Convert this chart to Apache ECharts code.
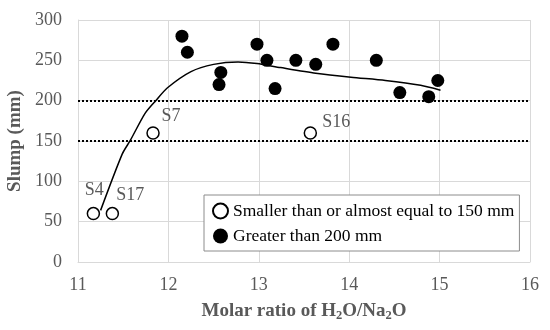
<!DOCTYPE html>
<html>
<head>
<meta charset="utf-8">
<script src="https://cdn.jsdelivr.net/npm/echarts@6/dist/echarts.min.js"></script>
<style>
html,body{margin:0;padding:0;background:#fff;}
#chart{width:550px;height:330px;}
</style>
</head>
<body>
<div id="chart"></div>
<script>
// ---- data ----
const openName = 'Smaller than or almost equal to 150 mm';
const filledName = 'Greater than 200 mm';
const openLabels = ['S4', 'S17', 'S7', 'S16'];
const openX = [11.17, 11.38, 11.83, 13.57];
const openY = [60, 60, 160, 160];
const filledX = [12.15, 12.21, 12.56, 12.58, 12.98, 13.09, 13.18, 13.41, 13.63, 13.82, 14.30, 14.56, 14.88, 14.98];
const filledY = [280, 260, 220, 235, 270, 250, 215, 250, 245, 270, 250, 210, 205, 225];
const trendX = [11.25, 11.49, 11.58, 11.74, 11.86, 11.99, 12.25, 12.50, 12.77, 12.98, 13.24, 13.63, 14.02, 14.40, 14.79, 15.01];
const trendY = [64, 134, 151, 184, 200, 216, 236, 245, 248, 246, 241, 234, 229, 225, 219, 213];
const refLines = [200, 150];
const xMin = 11, xMax = 16, xStep = 1;
const yMin = 0, yMax = 300, yStep = 50;

// ---- style ----
const FONT = '"Liberation Serif", "Times New Roman", serif';
const GRAY = '#595959';
const labelOffset = { S4: [1, -3], S17: [18, 2], S7: [18, 4], S16: [26, 10] };

const openData = openX.map((x, i) => ({
  value: [x, openY[i]],
  name: openLabels[i],
  label: {
    show: true, formatter: '{b}', position: 'top', distance: 5,
    offset: labelOffset[openLabels[i]],
    color: GRAY, fontSize: 18, fontFamily: FONT
  }
}));
const filledData = filledX.map((x, i) => [x, filledY[i]]);
const trendData = trendX.map((x, i) => [x, trendY[i]]);

const chart = echarts.init(document.getElementById('chart'), null, { renderer: 'canvas' });
chart.setOption({
  backgroundColor: '#fff',
  animation: false,
  textStyle: { fontFamily: FONT },
  grid: { left: 78, right: 20, top: 20, bottom: 68, containLabel: false, outerBoundsMode: 'none' },
  legend: {
    data: [openName, filledName],
    orient: 'vertical',
    left: 204, top: 195,
    padding: [7, 5, 6, 8],
    itemGap: 7,
    itemWidth: 15, itemHeight: 15,
    borderColor: '#8c8c8c', borderWidth: 1,
    backgroundColor: '#fff',
    textStyle: { fontSize: 17.5, color: '#000', fontFamily: FONT }
  },
  xAxis: {
    type: 'value', min: xMin, max: xMax, interval: xStep,
    name: '{b|Molar ratio of H}{s|2}{b|O/Na}{s|2}{b|O}',
    nameLocation: 'middle', nameGap: 38,
    nameTextStyle: {
      rich: {
        b: { fontSize: 19, fontWeight: 'bold', color: GRAY, fontFamily: FONT },
        s: { fontSize: 12.5, fontWeight: 'bold', color: GRAY, fontFamily: FONT, padding: [9, 0, 0, 0] }
      }
    },
    axisLine: { show: true, lineStyle: { color: '#d9d9d9', width: 1 } },
    axisTick: { show: false },
    axisLabel: { color: GRAY, fontSize: 18, fontFamily: FONT, margin: 14 },
    splitLine: { show: true, lineStyle: { color: '#d9d9d9', width: 1 } }
  },
  yAxis: {
    type: 'value', min: yMin, max: yMax, interval: yStep,
    name: 'Slump (mm)',
    nameLocation: 'middle', nameGap: 48,
    nameTextStyle: { fontSize: 19, fontWeight: 'bold', color: GRAY, fontFamily: FONT },
    axisLine: { show: true, lineStyle: { color: '#d9d9d9', width: 1 } },
    axisTick: { show: false },
    axisLabel: { color: GRAY, fontSize: 18, fontFamily: FONT, margin: 16 },
    splitLine: { show: true, lineStyle: { color: '#d9d9d9', width: 1 } }
  },
  series: [
    {
      name: 'trend', type: 'line', data: trendData,
      showSymbol: false, symbol: 'none', smooth: 0.25,
      lineStyle: { color: '#000', width: 1.5 },
      z: 2,
      markLine: {
        silent: true, symbol: ['none', 'none'],
        label: { show: false },
        lineStyle: { color: '#000', type: [2, 2], width: 2 },
        data: refLines.map(v => ({ yAxis: v }))
      }
    },
    {
      name: openName, type: 'scatter', data: openData,
      symbol: 'circle', symbolSize: 12,
      itemStyle: { color: '#fff', borderColor: '#000', borderWidth: 1.5, opacity: 1 },
      z: 3
    },
    {
      name: filledName, type: 'scatter', data: filledData,
      symbol: 'circle', symbolSize: 13,
      itemStyle: { color: '#000', opacity: 1 },
      z: 3
    }
  ]
});
</script>
</body>
</html>
